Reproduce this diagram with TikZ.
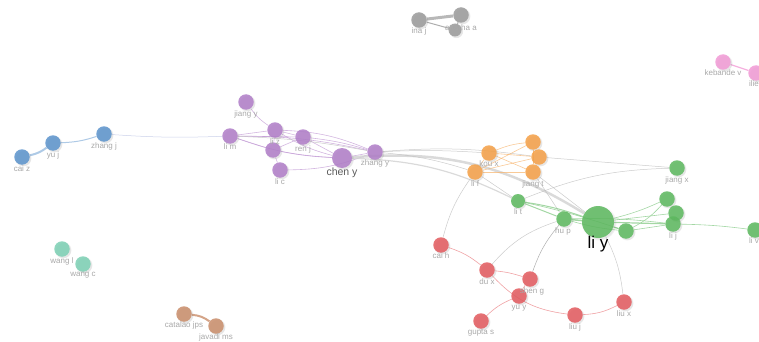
\documentclass[tikz,border=0pt]{standalone}
\usepackage{fontspec}
\setmainfont{Liberation Sans}
\usetikzlibrary{shadows}
\pgfdeclarelayer{bg}
\pgfsetlayers{bg,main}
\definecolor{cBlue}{HTML}{5B93CC}
\definecolor{cPurp}{HTML}{B07DC8}
\definecolor{cOran}{HTML}{F5A046}
\definecolor{cGreen}{HTML}{5CB85E}
\definecolor{cRed}{HTML}{E35A5E}
\definecolor{cGray}{HTML}{9A9A9A}
\definecolor{cPink}{HTML}{F29AD6}
\definecolor{cTeal}{HTML}{7CD0B4}
\definecolor{cBrown}{HTML}{C98D6A}
\definecolor{cLab}{HTML}{A8A8A8}
\tikzset{
  nd/.style={circle, inner sep=0pt, minimum size=#1, fill opacity=0.85,
    circular drop shadow={shadow xshift=1pt, shadow yshift=-1pt, opacity=0.2}},
  nd/.default=15.5pt,
  bl/.style={nd=#1, fill=cBlue}, bl/.default=15.5pt,
  pu/.style={nd=#1, fill=cPurp}, pu/.default=15.5pt,
  og/.style={nd=#1, fill=cOran}, og/.default=15.5pt,
  gr/.style={nd=#1, fill=cGreen}, gr/.default=15.5pt,
  rd/.style={nd=#1, fill=cRed}, rd/.default=15.5pt,
  gy/.style={nd=#1, fill=cGray}, gy/.default=15.5pt,
  pk/.style={nd=#1, fill=cPink}, pk/.default=15.5pt,
  tl/.style={nd=#1, fill=cTeal}, tl/.default=15.5pt,
  br/.style={nd=#1, fill=cBrown}, br/.default=15.5pt,
  lab/.style={font=\fontsize{8}{9}\selectfont, text=cLab, inner sep=0pt},
  eb/.style={draw=cBlue!70, line width=0.7pt, opacity=0.7},
  ep/.style={draw=cPurp!80, line width=0.6pt, opacity=0.7},
  eo/.style={draw=cOran!80, line width=0.6pt, opacity=0.7},
  eg/.style={draw=cGreen!80, line width=0.6pt, opacity=0.7},
  er/.style={draw=cRed!80, line width=0.6pt, opacity=0.7},
  ey/.style={draw=black!25, line width=0.5pt, opacity=0.8},
}
\begin{document}
\begin{tikzpicture}[x=1pt,y=-1pt]
\useasboundingbox (0,0) rectangle (759,342);
% blue
\node[bl] (caiz) at (22,157) {};
\node[bl] (yuj) at (53,143) {};
\node[bl] (zhangj) at (104,134) {};
\node[lab] (Lcaiz) at (22,169) {cai z};
\node[lab] (Lyuj) at (53,155) {yu j};
\node[lab] (Lzhangj) at (104,146) {zhang j};
% purple
\node[pu] (jiangy) at (246,102) {};
\node[pu] (lim) at (230,136) {};
\node[pu] (liz) at (275,130) {};
\node[pu] (pq) at (273,150) {};
\node[pu] (renj) at (303,137) {};
\node[pu] (lic) at (280,170) {};
\node[pu=20pt] (cheny) at (342,158) {};
\node[pu] (zhangy) at (375,152) {};
\node[lab] (Ljiangy) at (246,114) {jiang y};
\node[lab] (Llim) at (230,147) {li m};
\node[lab] (Lliz) at (275,142) {li z};
\node[lab] (Lrenj) at (303,149) {ren j};
\node[lab] (Llic) at (280,182) {li c};
\node[font=\fontsize{10.5}{11}\selectfont, text=black!65, inner sep=0pt] (Lcheny) at (342,173) {chen y};
\node[lab] (Lzhangy) at (375,163) {zhang y};
% orange
\node[og] (koux) at (489,153) {};
\node[og] (ot) at (533,142) {};
\node[og] (orr) at (539,157) {};
\node[og] (jiangt) at (533,172) {};
\node[og] (lif) at (475,172) {};
\node[lab] (Lkoux) at (489,164) {kou x};
\node[lab] (Ljiangt) at (533,184) {jiang t};
\node[lab] (Llif) at (475,184) {li f};
% green
\node[gr=14pt] (lit) at (518,201) {};
\node[gr] (hup) at (564,219) {};
\node[gr=32pt] (liy) at (598,222) {};
\node[gr] (g1) at (626,231) {};
\node[gr] (jiangx) at (677,168) {};
\node[gr] (g2) at (667,199) {};
\node[gr] (g3) at (676,213) {};
\node[gr] (lij) at (673,224) {};
\node[gr] (liv) at (755,230) {};
\node[lab] (Llit) at (518,212) {li t};
\node[lab] (Lhup) at (563,231) {hu p};
\node[font=\fontsize{17}{18}\selectfont, text=black, inner sep=0pt] (Lliy) at (598,244) {li y};
\node[lab] (Ljiangx) at (677,180) {jiang x};
\node[lab] (Llij) at (673,236) {li j};
\node[lab, anchor=east] (Lliv) at (759,241) {li v};
% red
\node[rd] (caih) at (441,245) {};
\node[rd] (dux) at (487,270) {};
\node[rd] (sheng) at (530,279) {};
\node[rd] (yuy) at (519,296) {};
\node[rd] (guptas) at (481,321) {};
\node[rd] (liuj) at (575,315) {};
\node[rd] (liux) at (624,302) {};
\node[lab] (Lcaih) at (441,256) {cai h};
\node[lab] (Ldux) at (487,282) {du x};
\node[lab] (Lsheng) at (532,291) {shen g};
\node[lab] (Lyuy) at (519,308) {yu y};
\node[lab] (Lguptas) at (481,333) {gupta s};
\node[lab] (Lliuj) at (575,327) {liu j};
\node[lab] (Lliux) at (624,314) {liu x};
% gray
\node[gy] (inaj) at (419,20) {};
\node[gy] (att) at (461,15) {};
\node[gy=13pt] (att2) at (455,30) {};
\node[lab] (Linaj) at (419,31) {ina j};
\node[lab] (Latt) at (461,28) {attarha a};
% pink
\node[pk] (keb) at (723,62) {};
\node[pk] (ilie) at (756,73) {};
\node[lab] (Lkeb) at (723,73) {kebande v};
\node[lab, anchor=east] (Lilie) at (759,84) {ilie};
% teal
\node[tl] (wangl) at (62,249) {};
\node[tl] (wangc) at (83,264) {};
\node[lab] (Lwangl) at (62,261) {wang l};
\node[lab] (Lwangc) at (83,275) {wang c};
% brown
\node[br] (cat) at (184,314) {};
\node[br] (jav) at (216,326) {};
\node[lab] (Lcat) at (184,325) {catalao jps};
\node[lab] (Ljav) at (216,337) {javadi ms};

\begin{pgfonlayer}{bg}
% blue
\draw[eb, line width=2pt] (caiz) to[bend right=12] (yuj);
\draw[eb, line width=1pt] (yuj) to[bend right=8] (zhangj);
\draw[ey, draw=cPurp!40!cBlue!50] (zhangj) to[bend right=3] (lim);
% purple
\draw[ep] (jiangy) to[bend right=10] (liz);
\draw[ep] (liz) to[bend right=8] (cheny);
\draw[ep] (lim) -- (liz);
\draw[ep] (lim) -- (renj);
\draw[ep] (lim) -- (pq);
\draw[ep] (lim) to[bend right=8] (cheny);
\draw[ep] (lim) to[bend left=6] (zhangy);
\draw[ep] (liz) -- (renj);
\draw[ep] (liz) -- (pq);
\draw[ep] (liz) to[bend left=10] (zhangy);
\draw[ep] (pq) -- (lic);
\draw[ep] (pq) -- (renj);
\draw[ep] (pq) to[bend right=4] (cheny);
\draw[ep] (lic) to[bend right=10] (zhangy);
\draw[ep] (renj) -- (cheny);
\draw[ep] (renj) to[bend left=5] (zhangy);
\draw[ep] (cheny) -- (zhangy);
% cross-cluster gray
\draw[ey, line width=2.5pt, draw=black!18] (cheny) to[bend left=18] (liy);
\draw[ey, line width=1.2pt, draw=black!18] (cheny) to[bend left=12] (lit);
\draw[ey] (zhangy) to[bend left=6] (orr);
\draw[ey] (zhangy) to[bend left=3] (koux);
\draw[ey] (zhangy) to[bend left=6] (lif);
\draw[ey] (lim) to[bend left=4] (zhangy);
\draw[ey] (orr) -- (jiangx);
\draw[ey] (jiangt) -- (liy);
\draw[ey] (jiangt) -- (hup);
\draw[ey] (lif) -- (lit);
\draw[ey] (lif) to[bend right=10] (caih);
\draw[ey] (dux) to[bend left=15] (hup);
\draw[ey, draw=black!40] (sheng) to[bend left=10] (hup);
\draw[ey] (liy) to[bend left=10] (liux);
\draw[ey] (lit) to[bend left=10] (jiangx);
% orange
\draw[eo] (koux) to[bend left=8] (ot);
\draw[eo] (koux) -- (orr);
\draw[eo] (koux) -- (jiangt);
\draw[eo] (lif) -- (orr);
\draw[eo] (lif) -- (ot);
\draw[eo] (lif) -- (jiangt);
\draw[eo] (lif) -- (koux);
\draw[eo] (ot) -- (orr);
\draw[eo] (orr) -- (jiangt);
\draw[eo] (ot) -- (jiangt);
% green
\draw[eg, line width=1pt] (lit) -- (hup);
\draw[eg, line width=1pt] (lit) to[bend left=5] (liy);
\draw[eg] (lit) to[bend left=3] (g1);
\draw[eg, line width=1.5pt] (hup) -- (liy);
\draw[eg] (hup) to[bend right=5] (g1);
\draw[eg, line width=1.2pt] (liy) -- (g1);
\draw[eg, line width=1.2pt] (liy) -- (lij);
\draw[eg] (liy) to[bend right=5] (g2);
\draw[eg] (liy) -- (g3);
\draw[eg] (hup) to[bend left=4] (lij);
\draw[eg] (g1) to[bend right=10] (g2);
\draw[eg] (g1) -- (lij);
\draw[eg] (lij) to[bend left=3] (liv);
\draw[eg] (g2) -- (g3);
\draw[eg] (g3) -- (lij);
% red
\draw[er] (caih) to[bend left=10] (dux);
\draw[er] (dux) to[bend left=6] (sheng);
\draw[er] (dux) to[bend right=20] (liuj);
\draw[er] (yuy) to[bend right=10] (guptas);
\draw[er] (yuy) to[bend left=5] (sheng);
\draw[er] (liuj) to[bend right=12] (liux);
% small clusters
\draw[ey, draw=cGray, line width=3pt, opacity=0.7] (inaj) -- (att);
\draw[ey, draw=cGray, line width=1pt] (inaj) -- (att2);
\draw[ey, draw=cGray, line width=1pt] (att) -- (att2);
\draw[ey, draw=cPink, line width=1.2pt] (keb) -- (ilie);
\draw[ey, draw=cBrown, line width=2pt] (cat) to[bend left=15] (jav);
\end{pgfonlayer}
\end{tikzpicture}
\end{document}
